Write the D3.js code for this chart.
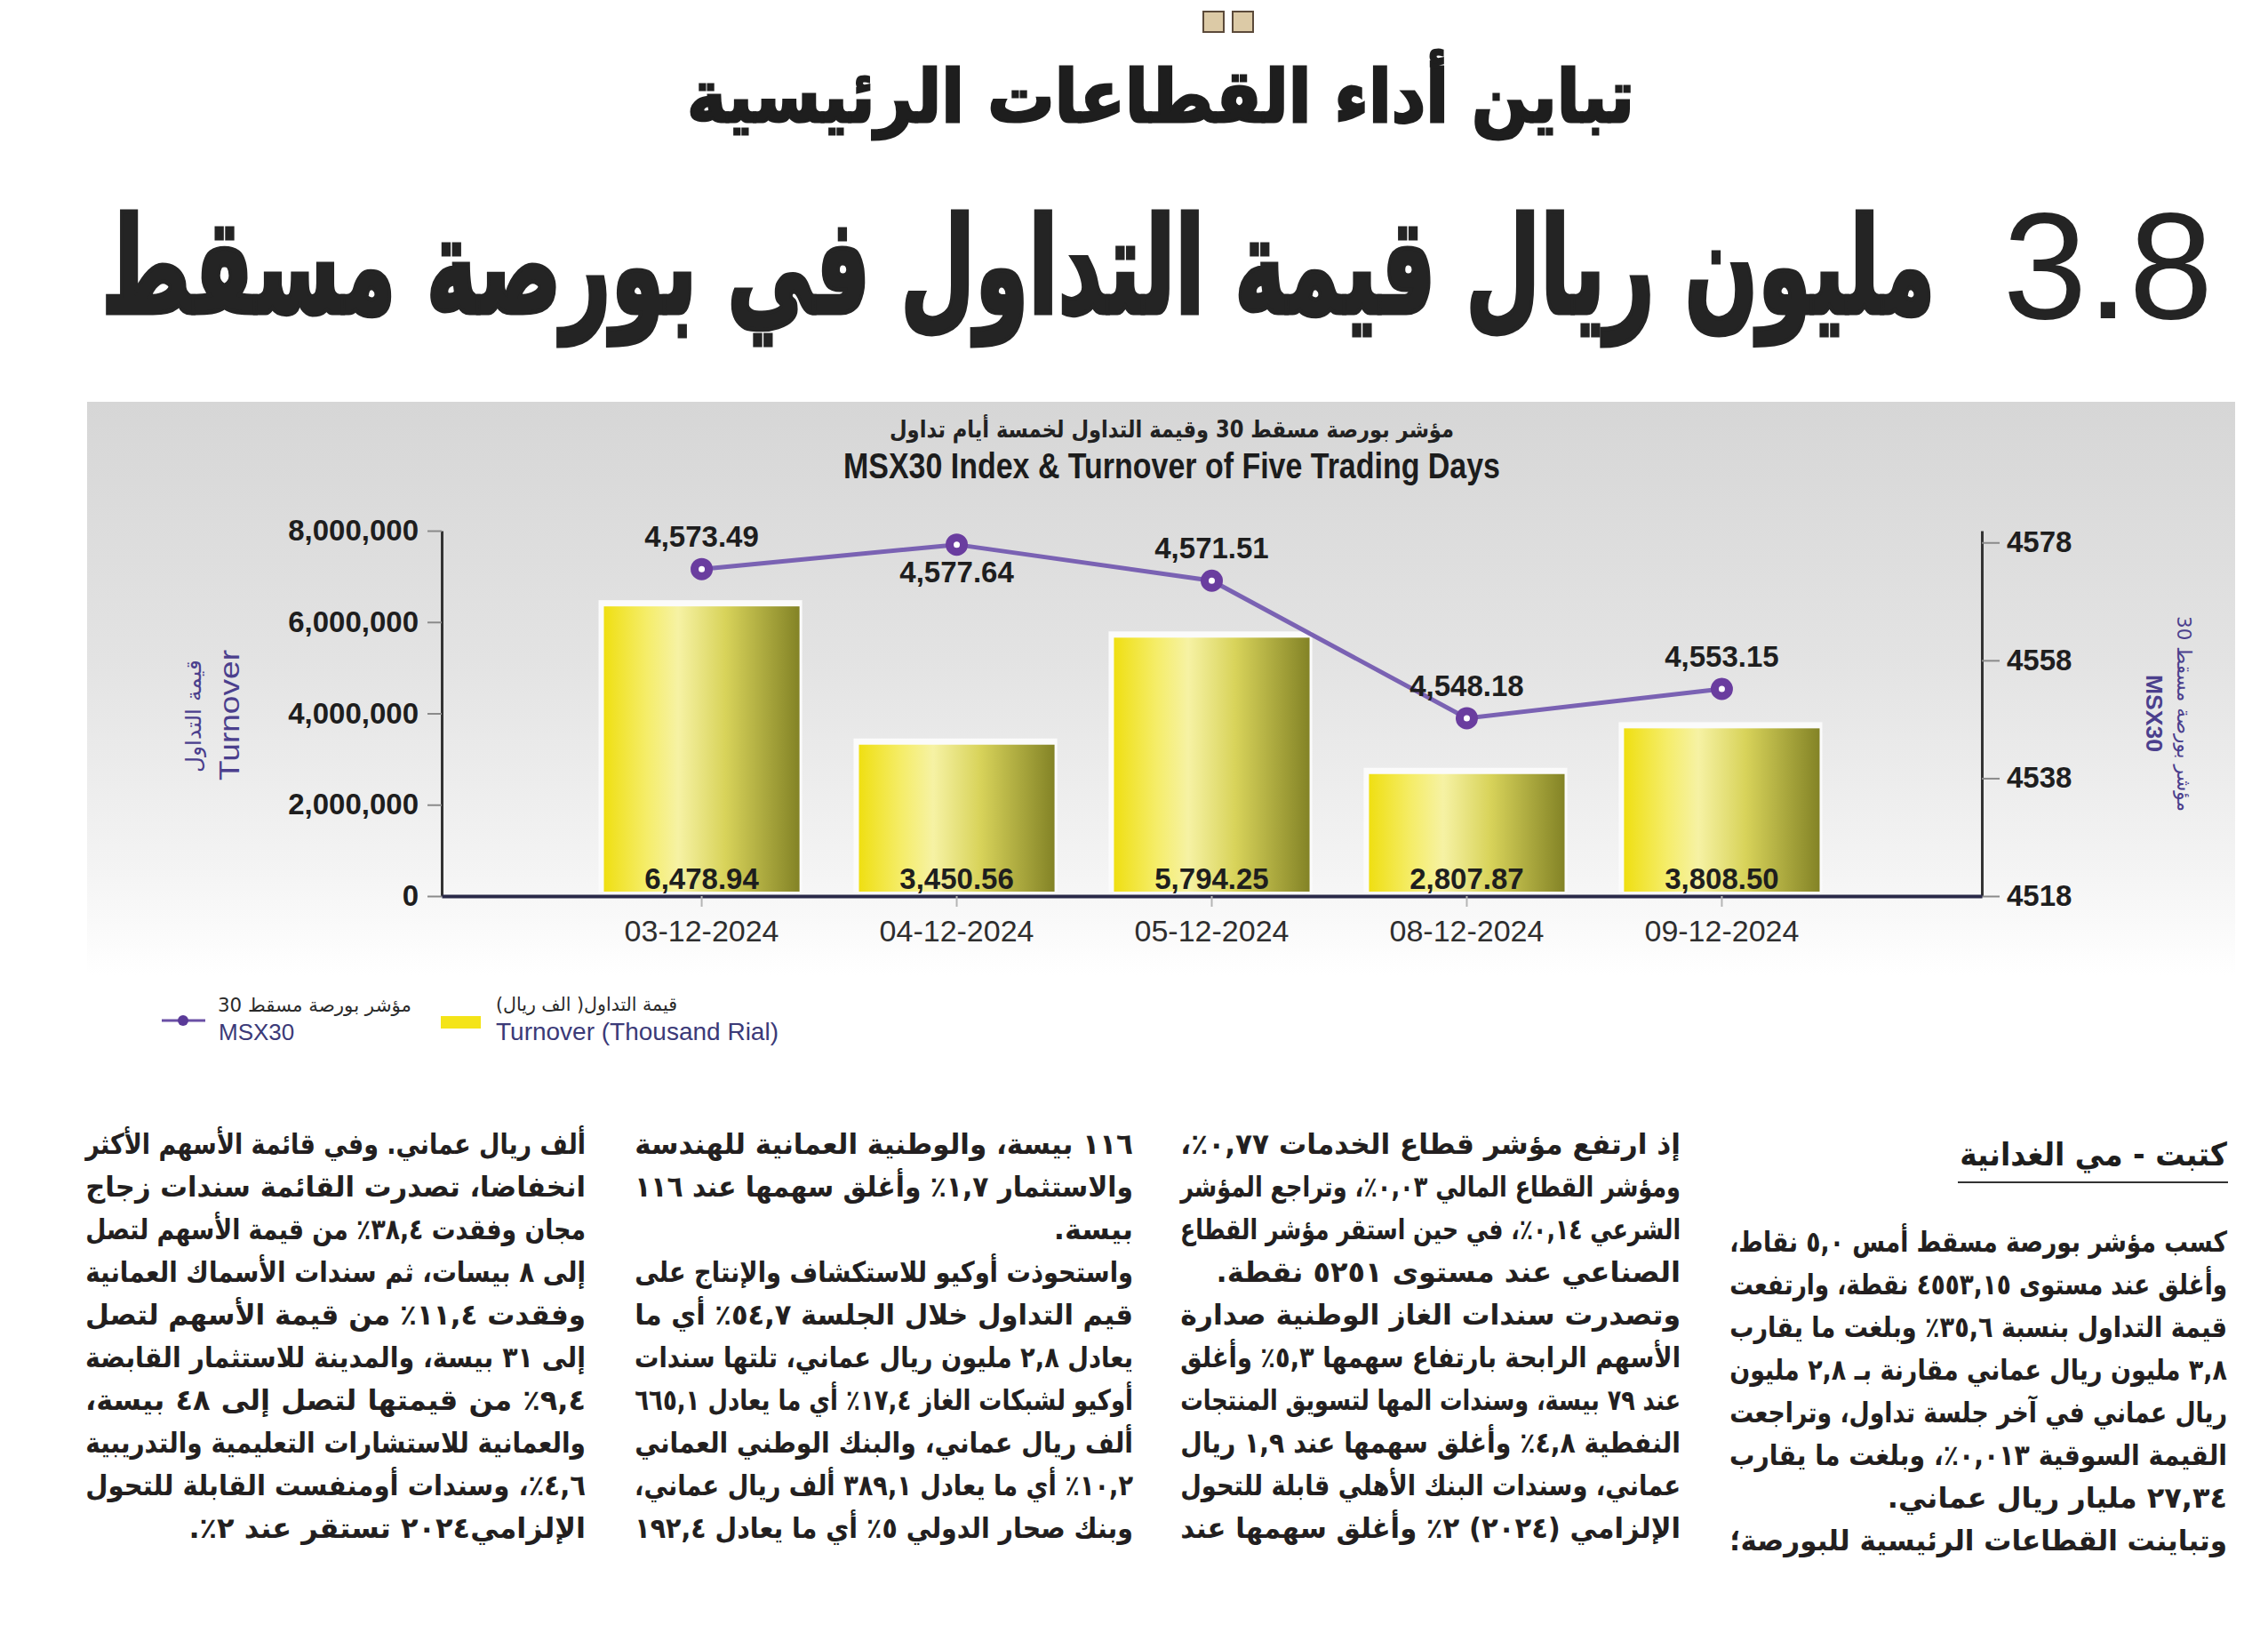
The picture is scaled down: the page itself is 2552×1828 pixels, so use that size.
<!DOCTYPE html>
<meta charset="utf-8">
<style>
body { margin: 0; background: #fff; }
svg { display: block; }
.lat { font-family: "Liberation Sans", Arial, sans-serif; }
.ar { font-family: "DejaVu Sans", sans-serif; }
</style>
<svg width="2552" height="1828"></svg>
<script src="https://d3js.org/d3.v7.min.js"></script>
<script>

var dates = ["03-12-2024", "04-12-2024", "05-12-2024", "08-12-2024", "09-12-2024"];
var turnover = [6478.94, 3450.56, 5794.25, 2807.87, 3808.50];   // thousand rial
var msx30 = [4573.49, 4577.64, 4571.51, 4548.18, 4553.15];
var turnoverTicks = [0, 2000000, 4000000, 6000000, 8000000];
var indexTicks = [4518, 4538, 4558, 4578];

var subTitle = "تباين أداء القطاعات الرئيسية";
var headTitle = "مليون ريال قيمة التداول في بورصة مسقط";
var headNumber = "3.8";
var chartTitleAr = "مؤشر بورصة مسقط 30 وقيمة التداول لخمسة أيام تداول";
var chartTitleEn = "MSX30 Index & Turnover of Five Trading Days";
var byline = "كتبت - مي الغدانية";

var col1 = [
  "كسب مؤشر بورصة مسقط أمس ٥,٠ نقاط،",
  "وأغلق عند مستوى ٤٥٥٣,١٥ نقطة، وارتفعت",
  "قيمة التداول بنسبة ٣٥,٦٪ وبلغت ما يقارب",
  "٣,٨ مليون ريال عماني مقارنة بـ ٢,٨ مليون",
  "ريال عماني في آخر جلسة تداول، وتراجعت",
  "القيمة السوقية ٠,٠١٣٪، وبلغت ما يقارب",
  "٢٧,٣٤ مليار ريال عماني.",
  "وتباينت القطاعات الرئيسية للبورصة؛"
];
var col2 = [
  "إذ ارتفع مؤشر قطاع الخدمات ٠,٧٧٪،",
  "ومؤشر القطاع المالي ٠,٠٣٪، وتراجع المؤشر",
  "الشرعي ٠,١٤٪، في حين استقر مؤشر القطاع",
  "الصناعي عند مستوى ٥٢٥١ نقطة.",
  "وتصدرت سندات الغاز الوطنية صدارة",
  "الأسهم الرابحة بارتفاع سهمها ٥,٣٪ وأغلق",
  "عند ٧٩ بيسة، وسندات المها لتسويق المنتجات",
  "النفطية ٤,٨٪ وأغلق سهمها عند ١,٩ ريال",
  "عماني، وسندات البنك الأهلي قابلة للتحول",
  "الإلزامي (٢٠٢٤) ٢٪ وأغلق سهمها عند"
];
var col3 = [
  "١١٦ بيسة، والوطنية العمانية للهندسة",
  "والاستثمار ١,٧٪ وأغلق سهمها عند ١١٦",
  "بيسة.",
  "واستحوذت أوكيو للاستكشاف والإنتاج على",
  "قيم التداول خلال الجلسة ٥٤,٧٪ أي ما",
  "يعادل ٢,٨ مليون ريال عماني، تلتها سندات",
  "أوكيو لشبكات الغاز ١٧,٤٪ أي ما يعادل ٦٦٥,١",
  "ألف ريال عماني، والبنك الوطني العماني",
  "١٠,٢٪ أي ما يعادل ٣٨٩,١ ألف ريال عماني،",
  "وبنك صحار الدولي ٥٪ أي ما يعادل ١٩٢,٤"
];
var col4 = [
  "ألف ريال عماني. وفي قائمة الأسهم الأكثر",
  "انخفاضا، تصدرت القائمة سندات زجاج",
  "مجان وفقدت ٣٨,٤٪ من قيمة الأسهم لتصل",
  "إلى ٨ بيسات، ثم سندات الأسماك العمانية",
  "وفقدت ١١,٤٪ من قيمة الأسهم لتصل",
  "إلى ٣١ بيسة، والمدينة للاستثمار القابضة",
  "٩,٤٪ من قيمتها لتصل إلى ٤٨ بيسة،",
  "والعمانية للاستشارات التعليمية والتدريبية",
  "٤,٦٪، وسندات أومنفست القابلة للتحول",
  "الإلزامي٢٠٢٤ تستقر عند ٢٪."
];

var svg = d3.select("svg"),
    plot = {left: 497, right: 2230, top: 597, bottom: 1008};

function fit(t, w) {
  t.attr("textLength", w).attr("lengthAdjust", "spacingAndGlyphs");
}

// scale a text horizontally round its anchor (x0, y0) so that it is w pixels wide
function squeeze(t, x0, y0, w) {
  var len = t.node().getComputedTextLength();
  t.attr("x", 0).attr("y", 0)
    .attr("transform", "translate(" + x0 + "," + y0 + ") scale(" + (w / len) + ",1)");
}

function justify(t, x1, y, w, full) {
  var len = t.node().getComputedTextLength(),
      gaps = t.text().split(" ").length - 1;
  if (len > w) squeeze(t, x1, y, w);
  else if (full && gaps) t.style("word-spacing", ((w - len) / gaps) + "px");
}

document.fonts.ready.then(draw);

function draw() {
  var defs = svg.append("defs");

  var bgGrad = defs.append("linearGradient").attr("id", "bg")
      .attr("x1", 0).attr("y1", 0).attr("x2", 0).attr("y2", 1);
  bgGrad.selectAll("stop")
    .data([[0, "#d6d6d6"], [0.45, "#e3e3e3"], [0.8, "#f3f3f3"], [1, "#ffffff"]])
    .enter().append("stop")
      .attr("offset", function(d) { return d[0]; })
      .attr("stop-color", function(d) { return d[1]; });

  var barGrad = defs.append("linearGradient").attr("id", "bar");
  barGrad.selectAll("stop")
    .data([[0, "#efdf12"], [0.22, "#f5ed6a"], [0.38, "#f6f2a4"], [0.62, "#d8d35a"], [1, "#838326"]])
    .enter().append("stop")
      .attr("offset", function(d) { return d[0]; })
      .attr("stop-color", function(d) { return d[1]; });

  // page header
  svg.selectAll(".sq").data([1354, 1387]).enter().append("rect")
      .attr("x", function(d) { return d; }).attr("y", 13)
      .attr("width", 23).attr("height", 23)
      .attr("fill", "#dccaa6").attr("stroke", "#5b4a3a").attr("stroke-width", 2);

  var sub = svg.append("text").attr("class", "ar")
      .attr("font-size", 82).attr("font-weight", "bold")
      .attr("fill", "#1e1e1e").attr("stroke", "#1e1e1e").attr("stroke-width", 3)
      .text(subTitle);
  squeeze(sub, 773, 137, 1066);

  var head = svg.append("text").attr("class", "ar")
      .attr("font-size", 150).attr("font-weight", "bold")
      .attr("fill", "#242424").attr("stroke", "#242424").attr("stroke-width", 5)
      .text(headTitle);
  squeeze(head, 114, 352, 2064);

  svg.append("text").attr("class", "lat")
      .attr("x", 2490).attr("y", 358).attr("text-anchor", "end")
      .attr("font-size", 170).attr("fill", "#242424")
      .text(headNumber);

  // chart background
  svg.append("rect")
      .attr("x", 98).attr("y", 452).attr("width", 2417).attr("height", 645)
      .attr("fill", "url(#bg)");

  var t1 = svg.append("text").attr("class", "ar")
      .attr("x", 1001).attr("y", 492)
      .attr("font-size", 26).attr("font-weight", "bold").attr("fill", "#222")
      .text(chartTitleAr);
  fit(t1, 635);

  var t2 = svg.append("text").attr("class", "lat")
      .attr("x", 949).attr("y", 538)
      .attr("font-size", 40).attr("font-weight", "bold").attr("fill", "#1c1c1c")
      .text(chartTitleEn);
  fit(t2, 739);

  var x = d3.scaleBand()
      .domain(dates)
      .range([plot.left, plot.right])
      .paddingInner(0.233)
      .paddingOuter(0.636);

  var yL = d3.scaleLinear().domain([0, 8000000]).range([plot.bottom, plot.top]);
  var yR = d3.scaleLinear().domain([4518, 4580]).range([plot.bottom, plot.top]);
  var cx = function(d) { return x(d) + x.bandwidth() / 2; };

  var bars = svg.append("g")
    .selectAll("g")
    .data(dates)
    .enter().append("g");

  bars.append("rect")
      .attr("x", function(d) { return x(d) - 6; })
      .attr("y", function(d, i) { return yL(turnover[i] * 1000); })
      .attr("width", x.bandwidth() + 9)
      .attr("height", function(d, i) { return plot.bottom - 4 - yL(turnover[i] * 1000); })
      .attr("fill", "#fbfbfb");

  bars.append("rect")
      .attr("x", function(d) { return x(d); })
      .attr("y", function(d, i) { return yL(turnover[i] * 1000) + 7; })
      .attr("width", x.bandwidth())
      .attr("height", function(d, i) { return plot.bottom - 12 - yL(turnover[i] * 1000); })
      .attr("fill", "url(#bar)");

  bars.append("text").attr("class", "lat")
      .attr("x", cx)
      .attr("y", plot.bottom - 8)
      .attr("text-anchor", "middle")
      .attr("font-size", 33).attr("font-weight", "bold").attr("fill", "#1e1e1e")
      .text(function(d, i) { return d3.format(",.2f")(turnover[i]); });

  // axes
  var axL = svg.append("g")
      .attr("class", "lat")
      .attr("transform", "translate(" + plot.left + ",0)")
      .call(d3.axisLeft(yL).tickValues(turnoverTicks).tickFormat(d3.format(","))
        .tickSizeInner(16).tickSizeOuter(0).tickPadding(10));

  var axR = svg.append("g")
      .attr("class", "lat")
      .attr("transform", "translate(" + plot.right + ",0)")
      .call(d3.axisRight(yR).tickValues(indexTicks).tickFormat(d3.format("d"))
        .tickSizeInner(20).tickSizeOuter(0).tickPadding(8));

  var axB = svg.append("g")
      .attr("class", "lat")
      .attr("transform", "translate(0," + plot.bottom + ")")
      .call(d3.axisBottom(x).tickSizeInner(12).tickSizeOuter(0).tickPadding(15));

  [axL, axR].forEach(function(a) {
    a.select(".domain").attr("stroke", "#333").attr("stroke-width", 3);
    a.selectAll(".tick line").attr("stroke", "#8a8a8a").attr("stroke-width", 2);
    a.selectAll("text").attr("font-size", 33).attr("font-weight", "bold").attr("fill", "#1e1e1e");
  });
  axB.select(".domain").attr("stroke", "#2a2a48").attr("stroke-width", 4);
  axB.selectAll(".tick line").attr("stroke", "#b5b5b5").attr("stroke-width", 2);
  axB.selectAll("text").attr("font-size", 34).attr("fill", "#2e2e2e");

  // axis titles
  var lt = svg.append("g").attr("transform", "translate(0,805)");
  var ltA = lt.append("text").attr("class", "ar")
      .attr("transform", "translate(218,0) rotate(-90)")
      .attr("x", -64).attr("dy", "0.35em")
      .attr("font-size", 24).attr("fill", "#4b3f8d")
      .text("قيمة التداول");
  fit(ltA, 127);
  var ltE = lt.append("text").attr("class", "lat")
      .attr("transform", "translate(258,0) rotate(-90)")
      .attr("x", -73).attr("dy", "0.35em")
      .attr("font-size", 32).attr("fill", "#4b3f8d")
      .text("Turnover");
  fit(ltE, 147);

  var rt = svg.append("g").attr("transform", "translate(0,803)");
  var rtA = rt.append("text").attr("class", "ar")
      .attr("transform", "translate(2458,0) rotate(90)")
      .attr("x", -110).attr("dy", "0.35em")
      .attr("font-size", 22).attr("fill", "#4b3f8d")
      .text("مؤشر بورصة مسقط 30");
  fit(rtA, 220);
  var rtE = rt.append("text").attr("class", "lat")
      .attr("transform", "translate(2424,0) rotate(90)")
      .attr("x", -44).attr("dy", "0.35em")
      .attr("font-size", 26).attr("font-weight", "bold").attr("fill", "#4b3f8d")
      .text("MSX30");
  fit(rtE, 87);

  // index line
  var line = d3.line()
      .x(function(d, i) { return cx(dates[i]); })
      .y(function(d) { return yR(d); });

  svg.append("path")
      .datum(msx30)
      .attr("fill", "none")
      .attr("stroke", "#7a62b3")
      .attr("stroke-width", 5)
      .attr("d", line);

  var top = d3.maxIndex(msx30);

  var pts = svg.append("g")
    .selectAll("g")
    .data(msx30)
    .enter().append("g");

  pts.append("circle")
      .attr("cx", function(d, i) { return cx(dates[i]); })
      .attr("cy", function(d) { return yR(d); })
      .attr("r", 8)
      .attr("fill", "#fff")
      .attr("stroke", "#6a3d9f")
      .attr("stroke-width", 9);

  pts.append("text").attr("class", "lat")
      .attr("x", function(d, i) { return cx(dates[i]); })
      .attr("y", function(d, i) { return i === top ? yR(d) + 42 : yR(d) - 25; })
      .attr("text-anchor", "middle")
      .attr("font-size", 33).attr("font-weight", "bold").attr("fill", "#1e1e1e")
      .text(function(d) { return d3.format(",.2f")(d); });

  // legend
  var lg = svg.append("g");
  lg.append("line").attr("x1", 182).attr("x2", 231).attr("y1", 1148).attr("y2", 1148)
      .attr("stroke", "#6a4fa5").attr("stroke-width", 3);
  lg.append("circle").attr("cx", 206).attr("cy", 1148).attr("r", 6).attr("fill", "#5a3a98");
  var la1 = lg.append("text").attr("class", "ar")
      .attr("x", 245).attr("y", 1138).attr("font-size", 21).attr("fill", "#2a2a2a")
      .text("مؤشر بورصة مسقط 30");
  fit(la1, 218);
  lg.append("text").attr("class", "lat")
      .attr("x", 246).attr("y", 1170).attr("font-size", 26).attr("fill", "#3b3a78")
      .text("MSX30");
  lg.append("rect").attr("x", 496).attr("y", 1143).attr("width", 45).attr("height", 14)
      .attr("fill", "#f4e418");
  var la2 = lg.append("text").attr("class", "ar")
      .attr("x", 558).attr("y", 1137).attr("font-size", 21).attr("fill", "#2a2a2a")
      .text("قيمة التداول( الف ريال)");
  fit(la2, 204);
  lg.append("text").attr("class", "lat")
      .attr("x", 558).attr("y", 1170).attr("font-size", 28).attr("fill", "#3b3a78")
      .text("Turnover (Thousand Rial)");

  // article
  var by = svg.append("text").attr("class", "ar")
      .attr("direction", "rtl").attr("text-anchor", "start")
      .attr("font-size", 36).attr("font-weight", "bold").attr("fill", "#1e1e1e")
      .text(byline);
  squeeze(by, 2506, 1311, 301);
  svg.append("line").attr("x1", 2203).attr("x2", 2507).attr("y1", 1330).attr("y2", 1330)
      .attr("stroke", "#333").attr("stroke-width", 2);

  var columns = [
    {x0: 1946, x1: 2506, y0: 1397, lines: col1},
    {x0: 1328, x1: 1891, y0: 1287, lines: col2},
    {x0: 714, x1: 1275, y0: 1287, lines: col3},
    {x0: 96, x1: 659, y0: 1287, lines: col4}
  ];

  columns.forEach(function(c) {
    c.lines.forEach(function(s, i) {
      var y = c.y0 + i * 48 + 11;
      var t = svg.append("text").attr("class", "ar")
          .attr("x", c.x1).attr("y", y)
          .attr("direction", "rtl").attr("text-anchor", "start")
          .attr("font-size", 32).attr("font-weight", "bold").attr("fill", "#231f20")
          .text(s);
      justify(t, c.x1, y, c.x1 - c.x0, s.slice(-1) !== ".");
    });
  });
}

</script>
